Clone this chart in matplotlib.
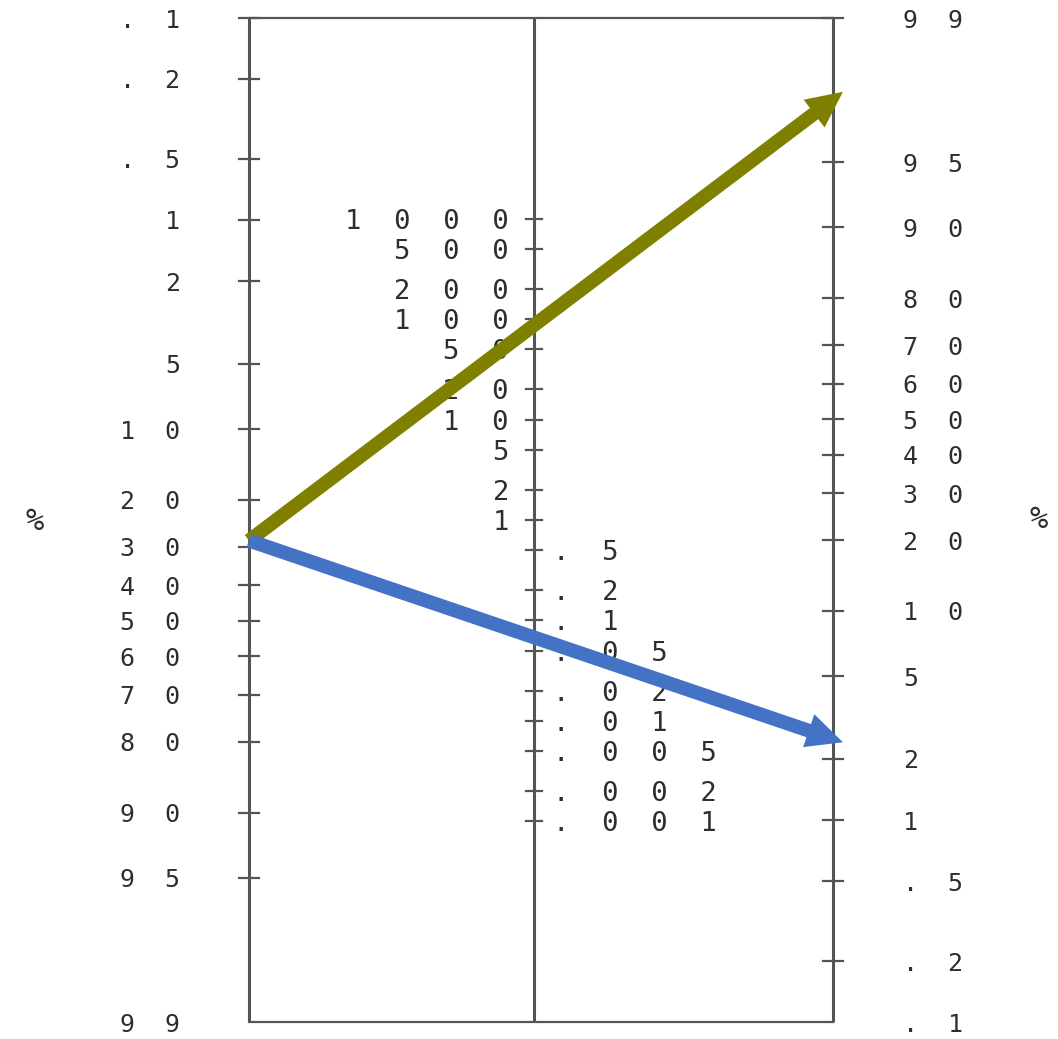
import numpy as np
import matplotlib.pyplot as plt

# Fagan nomogram scales
pre_ticks = [0.1, 0.2, 0.5, 1, 2, 5, 10, 20, 30, 40, 50, 60, 70, 80, 90, 95, 99]
post_ticks = [99, 95, 90, 80, 70, 60, 50, 40, 30, 20, 10, 5, 2, 1, 0.5, 0.2, 0.1]
lr_high = [1000, 500, 200, 100, 50, 20, 10, 5, 2, 1]
lr_low = [0.5, 0.2, 0.1, 0.05, 0.02, 0.01, 0.005, 0.002, 0.001]

# worked example: one pre-test probability, two post-test results (%)
pretest = 28.5
posttest = [97.5, 2.5]
arrow_colors = ['#808000', '#4472c4']

ink = '#2e2e2e'
rule = '#555555'
W, H = 1058, 1039


def logit(p):
    p = np.asarray(p, dtype=float) / 100.0
    return np.log(p / (1 - p))


def spaced(v):
    s = f'{v:g}'
    if s.startswith('0.'):
        s = s[1:]
    return '  '.join(s)


# vertical positions: left scale runs .1 -> 99 downwards, right scale 99 -> .1
shift = -logit(0.1) - logit(99)


def u_left(p):
    return -logit(p)


def u_right(p):
    return logit(p) + shift


def u_mid(lr):
    return (np.log(lr) + shift) / 2


top, bot = u_left(0.1), u_left(99)

# frame in pixels
px_left, px_right, px_top, px_bot = 249, 833, 18, 1022
k = (px_bot - px_top) / (top - bot)
xs = px_right - px_left
x_mid = (534 - px_left) / xs

fig = plt.figure(figsize=(W / 100, H / 100), dpi=100)
ax = fig.add_axes([0, 0, 1, 1])
ax.set_xlim(-px_left / xs, (W - px_left) / xs)
ax.set_ylim(bot - (H - px_bot) / k, top + px_top / k)
ax.axis('off')

# frame and the three scale lines
for x in (0, x_mid, 1):
    ax.plot([x, x], [bot, top], color=rule, lw=2.2, solid_capstyle='butt')
ax.plot([0, 1], [top, top], color=rule, lw=1.6)
ax.plot([0, 1], [bot, bot], color=rule, lw=1.6)

tick = 10 / xs
font = dict(family='DejaVu Sans Mono', color=ink, va='center_baseline')

for p in pre_ticks:
    u = u_left(p)
    if p != 99:
        ax.plot([-tick, tick], [u, u], color=rule, lw=1.6)
    ax.annotate(spaced(p), (0, u), xytext=(-69, 0), textcoords='offset pixels',
                ha='right', fontsize=18, **font)

for p in post_ticks:
    u = u_right(p)
    if p != 0.1:
        ax.plot([1 - tick, 1 + tick], [u, u], color=rule, lw=1.6)
    ax.annotate(spaced(p), (1, u), xytext=(70, 0), textcoords='offset pixels',
                ha='left', fontsize=18, **font)

for lr in lr_high:
    u = u_mid(lr)
    ax.plot([x_mid - tick * 0.8, x_mid + tick * 0.8], [u, u], color=rule, lw=1.6)
    ax.annotate(spaced(lr), (x_mid, u), xytext=(-25, 0), textcoords='offset pixels',
                ha='right', fontsize=19.5, **font)

for lr in lr_low:
    u = u_mid(lr)
    ax.plot([x_mid - tick * 0.8, x_mid + tick * 0.8], [u, u], color=rule, lw=1.6)
    ax.annotate(spaced(lr), (x_mid, u), xytext=(19, 0), textcoords='offset pixels',
                ha='left', fontsize=19.5, **font)

fig.text(35 / W, 1 - 522 / H, '%', ha='center', va='center', fontsize=22,
         family='DejaVu Sans Mono', color=ink)
fig.text(1030 / W, 1 - 520 / H, '%', ha='left', va='center', fontsize=22,
         family='DejaVu Sans Mono', color=ink)

# arrows from pre-test probability to post-test probability
start = np.array([0.0, float(u_left(pretest))])
for post, c in zip(posttest, arrow_colors):
    end = np.array([1.0, float(u_right(post))])
    tip = start + (end - start) * 1.017
    ax.annotate('', xy=tip, xytext=start,
                arrowprops=dict(arrowstyle='simple,head_length=1.3,head_width=1.25,tail_width=0.5',
                                mutation_scale=20, color=c, lw=0,
                                shrinkA=0, shrinkB=0))

fig.savefig('out.png', dpi=100, facecolor='white')
